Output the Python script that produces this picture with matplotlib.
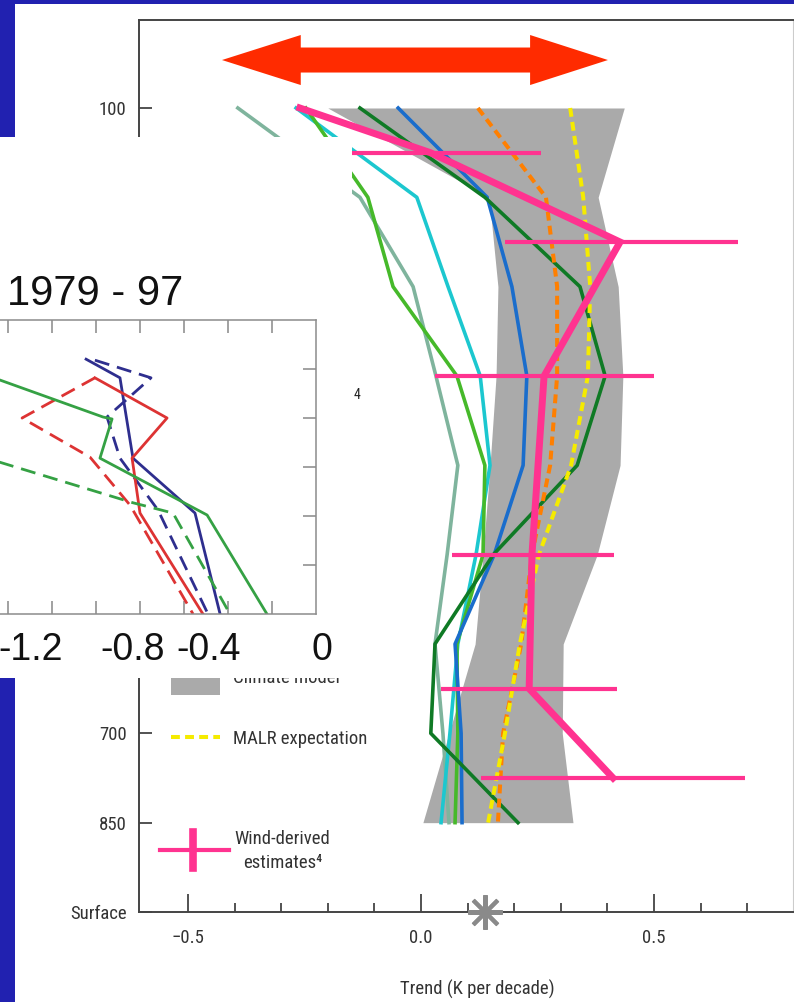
import matplotlib
matplotlib.use("Agg")
import matplotlib.pyplot as plt
from matplotlib.patches import Rectangle, Polygon
import numpy as np

plt.rcParams['font.family'] = ['Liberation Sans Narrow', 'Roboto Condensed', 'Noto Sans Condensed',
                               'Open Sans Condensed', 'Liberation Sans', 'DejaVu Sans']

# vertical axis: pressure levels, evenly spaced by index (0 = 100 hPa)
levels = ["100", "150", "200", "250", "300", "400", "500", "700", "850", "Surface"]
shown = ["100", "", "", "", "", "", "", "700", "850", "Surface"]
rows = np.arange(9)

# climate model spread (K per decade)
model_lo = [-0.200, 0.146, 0.165, 0.161, 0.148, 0.133, 0.116, 0.060, 0.004]
model_hi = [0.436, 0.380, 0.423, 0.433, 0.427, 0.378, 0.305, 0.303, 0.326]

# radiosonde / reanalysis trend profiles
sage = [-0.393, -0.131, -0.017, 0.032, 0.079, 0.056, 0.030, 0.047, 0.060]
cyan = [-0.268, -0.009, 0.058, 0.127, 0.148, 0.118, 0.079, 0.062, 0.043]
lgreen = [-0.247, -0.114, -0.060, 0.077, 0.137, 0.133, 0.077, 0.079, 0.073]
dgreen = [-0.131, 0.137, 0.341, 0.395, 0.335, 0.155, 0.030, 0.021, 0.208]
blue = [-0.049, 0.142, 0.195, 0.227, 0.219, 0.157, 0.073, 0.086, 0.088]
orange = [0.122, 0.268, 0.292, 0.292, 0.277, 0.238, 0.215, 0.176, 0.165]
malr = [0.320, 0.348, 0.363, 0.358, 0.322, 0.253, 0.212, 0.180, 0.144]

# wind-derived estimates with ranges
wind_rows = [0, 0.5, 1.5, 3, 5, 6.5, 7.5]
wind_x = [-0.260, 0.020, 0.427, 0.264, 0.238, 0.232, 0.412]
wind_lo = [-0.219, 0.180, 0.030, 0.067, 0.043, 0.129]
wind_hi = [0.258, 0.680, 0.500, 0.414, 0.421, 0.695]

surface_trend = 0.137

# 1979-97 inset profiles
in_blue_x = [-1.045, -0.891, -0.832, -0.550, -0.436]
in_blue_y = [0.80, 1.18, 2.82, 3.94, 6.0]
in_blue_d_x = [-1.005, -0.750, -0.950, -0.891, -0.718, -0.491]
in_blue_d_y = [0.82, 1.18, 1.98, 2.82, 3.88, 6.0]
in_red_x = [-1.005, -0.677, -0.836, -0.800, -0.514]
in_red_y = [1.18, 2.00, 2.82, 3.94, 6.0]
in_red_d_x = [-1.005, -1.336, -1.027, -0.845, -0.559]
in_red_d_y = [1.18, 2.00, 2.80, 3.78, 6.0]
in_green_x = [-1.527, -0.968, -0.927, -0.982, -0.495, -0.223]
in_green_y = [1.08, 1.98, 2.02, 2.82, 3.98, 6.0]
in_green_d_x = [-1.527, -0.832, -0.650, -0.391]
in_green_d_y = [2.78, 3.73, 3.94, 6.0]
in_labels = ["-1.2", "-0.8", "-0.4", "0"]
in_label_x = [-1.295, -0.832, -0.486, 0.027]

W, H = 794, 1002
FS = 13.5


def fbox(x0, y0, x1, y1):
    # pixel box -> figure fraction rect
    return [x0 / W, 1 - y1 / H, (x1 - x0) / W, (y1 - y0) / H]


fig = plt.figure(figsize=(W / 100, H / 100), dpi=100)
fig.patch.set_facecolor("#2121b0")
fig.add_artist(Rectangle((15 / W, 0), 1, 1 - 4 / H, transform=fig.transFigure,
                         fc="white", ec="none", zorder=-1))

ax = fig.add_axes(fbox(139, 20, 793, 912))
ax.fill_betweenx(rows, model_lo, model_hi, color="#aaaaaa", lw=0, zorder=1)
for xs, c in [(sage, "#7fb49d"), (cyan, "#1cc7cf"), (lgreen, "#46b92a"),
              (blue, "#1a6dcc"), (dgreen, "#0f7a25")]:
    ax.plot(xs, rows, color=c, lw=2.6, zorder=2)
ax.plot(orange, rows, color="#ff7f00", lw=2.9, dashes=(2.2, 1.3), zorder=3)
ax.plot(malr, rows, color="#f5eb00", lw=2.9, dashes=(2.2, 1.3), zorder=3)

pink = "#ff3390"
ax.hlines(wind_rows[1:], wind_lo, wind_hi, color=pink, lw=3.0, zorder=4)
ax.plot(wind_x, wind_rows, color=pink, lw=5, solid_joinstyle="miter", zorder=4)

ax.plot([surface_trend], [9], marker=(8, 2, 0), ms=25, mew=2.9,
        color="#8a8a8a", clip_on=False, zorder=6)

# double-headed arrow above the profiles
ay, shaft, head = -0.537, 0.14, 0.28
tl, bl, br, tr = -0.427, -0.258, 0.234, 0.401
arrow = [(tl, ay), (bl, ay - head), (bl, ay - shaft), (br, ay - shaft),
         (br, ay - head), (tr, ay), (br, ay + head), (br, ay + shaft),
         (bl, ay + shaft), (bl, ay + head)]
ax.add_patch(Polygon(arrow, closed=True, fc="#ff2b00", ec="none", zorder=5))

# legend, drawn by hand
ax.add_patch(Rectangle((-0.536, 6.31), 0.105, 0.26, fc="#aaaaaa", ec="none",
                       clip_on=False, zorder=5))
ax.text(-0.403, 6.44, "Climate model", fontsize=FS, color="#333333", va="baseline")
ax.plot([-0.536, -0.431], [7.04, 7.04], color="#f5eb00", lw=2.9,
        dashes=(2.2, 1.3), zorder=5)
ax.text(-0.403, 7.12, "MALR expectation", fontsize=FS, color="#333333", va="baseline")
ax.plot([-0.560, -0.412], [8.31, 8.31], color=pink, lw=3.0, zorder=5)
ax.plot([-0.489, -0.489], [8.10, 8.51], color=pink, lw=5.5, zorder=5)
ax.text(-0.298, 8.24, "Wind-derived", fontsize=FS, color="#333333",
        ha="center", va="baseline")
ax.text(-0.296, 8.51, "estimates\u2074", fontsize=FS, color="#333333",
        ha="center", va="baseline")
ax.text(-0.144, 3.26, "4", fontsize=10, color="#222222", va="baseline")

ax.set_xlim(-0.605, 0.798)
ax.set_ylim(9, -0.985)
ax.set_xticks([-0.5, 0.0, 0.5])
ax.set_xticklabels(["\u22120.5", "0.0", "0.5"])
ax.set_xticks([-0.4, -0.3, -0.2, -0.1, 0.1, 0.2, 0.3, 0.4, 0.6, 0.7], minor=True)
ax.set_yticks(np.arange(len(levels)))
ax.set_yticklabels(shown)
ax.tick_params(axis="x", which="major", direction="in", length=13, width=1.3,
               color="#444444", labelsize=FS, labelcolor="#333333", pad=12)
ax.tick_params(axis="x", which="minor", direction="in", length=6.5, width=1.3,
               color="#444444")
ax.tick_params(axis="y", direction="in", length=9.5, width=1.3, color="#444444",
               labelsize=FS, labelcolor="#333333", pad=9)
for s in ["left", "bottom", "top"]:
    ax.spines[s].set_color("#444444")
    ax.spines[s].set_linewidth(1.4)
ax.spines["right"].set_color("#cccccc")
ax.spines["right"].set_linewidth(0.8)
fig.text(477 / W, 1 - 995 / H, "Trend (K per decade)", fontsize=FS,
         color="#333333", ha="center", va="baseline")

# pasted panel with the 1979-97 profiles
cov = fig.add_axes(fbox(0, 137, 352, 678))
cov.set_zorder(2)
cov.set_facecolor("white")
cov.set_xticks([])
cov.set_yticks([])
for s in cov.spines.values():
    s.set_visible(False)
cov.text(7 / 352, (678 - 305) / 541, "1979 - 97", fontsize=30,
         family="Liberation Sans", color="#111111", va="baseline",
         transform=cov.transAxes)

ax_in = fig.add_axes(fbox(-30, 320, 316, 614))
ax_in.set_zorder(3)
ax_in.set_facecolor("none")
navy, red, green = "#2e2e8e", "#dd3333", "#35a144"
ax_in.plot(in_blue_x, in_blue_y, color=navy, lw=2)
ax_in.plot(in_blue_d_x, in_blue_d_y, color=navy, lw=2, dashes=(5.4, 2.9))
ax_in.plot(in_red_x, in_red_y, color=red, lw=2)
ax_in.plot(in_red_d_x, in_red_d_y, color=red, lw=2, dashes=(5.4, 2.9))
ax_in.plot(in_green_x, in_green_y, color=green, lw=2)
ax_in.plot(in_green_d_x, in_green_d_y, color=green, lw=2, dashes=(5.4, 2.9))
ax_in.set_xlim((-30 - 316) / 220, 0)
ax_in.set_ylim(6, 0)
ax_in.set_xticks(np.arange(-1.4, -0.1, 0.2))
ax_in.set_yticks([1, 2, 3, 4, 5])
ax_in.tick_params(direction="in", length=9.5, width=1.1, color="#888888",
                  top=True, right=True, labelbottom=False, labelleft=False)
for s in ax_in.spines.values():
    s.set_color("#8c8c8c")
    s.set_linewidth(1.1)
for lab, x in zip(in_labels, in_label_x):
    ax_in.text(x, 6.94, lab, fontsize=27, family="Liberation Sans",
               color="#111111", ha="center", va="baseline", clip_on=False)

fig.savefig("out.png", dpi=100, facecolor=fig.get_facecolor())
